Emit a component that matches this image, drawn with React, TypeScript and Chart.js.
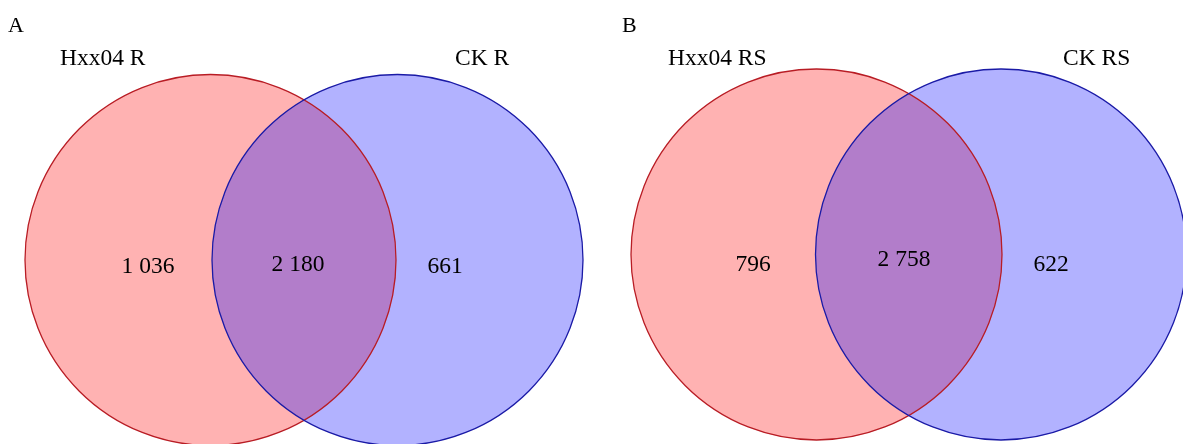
import React, { useEffect, useRef } from "react";
import { Chart, registerables } from "chart.js";

Chart.register(...registerables);

// ---- data ----
const panelLetters = ["A", "B"];
const leftSetNames = ["Hxx04 R", "Hxx04 RS"];
const rightSetNames = ["CK R", "CK RS"];
const leftOnlyCounts = [1036, 796];
const sharedCounts = [2180, 2758];
const rightOnlyCounts = [661, 622];

// ---- layout (in scale units; the scales span the canvas) ----
const W = 1183;
const H = 444;
const circleRadius = 185.5;
const leftCenterX = [210.5, 816.5];
const rightCenterX = [397.5, 1001];
const centerY = [260, 254.5];
const letterPos = [[8, 32], [622, 32]];
const leftNamePos = [[60, 65], [668, 65]];
const rightNamePos = [[455, 65], [1063, 65]];
const leftCountPos = [[148, 273], [753, 271]];
const sharedCountPos = [[298, 271], [904, 266]];
const rightCountPos = [[445, 273], [1051, 271]];

const RED_FILL = "rgba(255,0,0,0.3)";
const BLUE_FILL = "rgba(0,0,255,0.3)";
const RED_LINE = "#B81C24";
const BLUE_LINE = "#1A1AA6";
const FONT = "'Liberation Serif', 'Times New Roman', serif";

const fmt = (n: number) => String(n).replace(/\B(?=(\d{3})+(?!\d))/g, " ");

const vennPlugin = {
  id: "venn",
  afterDatasetsDraw(chart: any) {
    const ctx = chart.ctx;
    const xs = chart.scales.x;
    const ys = chart.scales.y;
    const px = (v: number) => xs.getPixelForValue(v);
    const py = (v: number) => ys.getPixelForValue(v);
    const pr = (cx: number, r: number) => px(cx + r) - px(cx);

    ctx.save();
    panelLetters.forEach((_, i) => {
      const circles = [
        { cx: leftCenterX[i], fill: RED_FILL, line: RED_LINE },
        { cx: rightCenterX[i], fill: BLUE_FILL, line: BLUE_LINE },
      ];
      circles.forEach((c) => {
        ctx.beginPath();
        ctx.arc(px(c.cx), py(centerY[i]), pr(c.cx, circleRadius), 0, Math.PI * 2);
        ctx.fillStyle = c.fill;
        ctx.fill();
      });
      circles.forEach((c) => {
        ctx.beginPath();
        ctx.arc(px(c.cx), py(centerY[i]), pr(c.cx, circleRadius), 0, Math.PI * 2);
        ctx.strokeStyle = c.line;
        ctx.lineWidth = 1.3;
        ctx.stroke();
      });

      ctx.fillStyle = "#000";
      ctx.textBaseline = "alphabetic";
      ctx.textAlign = "left";
      ctx.font = `22px ${FONT}`;
      ctx.fillText(panelLetters[i], px(letterPos[i][0]), py(letterPos[i][1]));
      ctx.font = `23.5px ${FONT}`;
      ctx.fillText(leftSetNames[i], px(leftNamePos[i][0]), py(leftNamePos[i][1]));
      ctx.fillText(rightSetNames[i], px(rightNamePos[i][0]), py(rightNamePos[i][1]));

      ctx.textAlign = "center";
      ctx.fillText(fmt(leftOnlyCounts[i]), px(leftCountPos[i][0]), py(leftCountPos[i][1]));
      ctx.fillText(fmt(sharedCounts[i]), px(sharedCountPos[i][0]), py(sharedCountPos[i][1]));
      ctx.fillText(fmt(rightOnlyCounts[i]), px(rightCountPos[i][0]), py(rightCountPos[i][1]));
    });
    ctx.restore();
  },
};

export default function App() {
  const ref = useRef<HTMLCanvasElement | null>(null);
  useEffect(() => {
    if (!ref.current) return;
    const chart = new Chart(ref.current, {
      type: "scatter",
      data: {
        datasets: panelLetters.map((_, i) => ({
          label: panelLetters[i],
          data: [
            { x: leftCenterX[i], y: centerY[i] },
            { x: rightCenterX[i], y: centerY[i] },
          ],
          pointRadius: 0,
        })),
      },
      options: {
        animation: false,
        responsive: false,
        events: [],
        layout: { padding: 0 },
        plugins: { legend: { display: false }, tooltip: { enabled: false } },
        scales: {
          x: { type: "linear", min: 0, max: W, display: false },
          y: { type: "linear", min: 0, max: H, reverse: true, display: false },
        },
      },
      plugins: [vennPlugin],
    });
    return () => chart.destroy();
  }, []);
  return (
    <div style={{ position: "absolute", left: 0, top: 0, width: W, height: H, background: "#fff" }}>
      <canvas ref={ref} width={W} height={H} style={{ width: W, height: H }} />
    </div>
  );
}
